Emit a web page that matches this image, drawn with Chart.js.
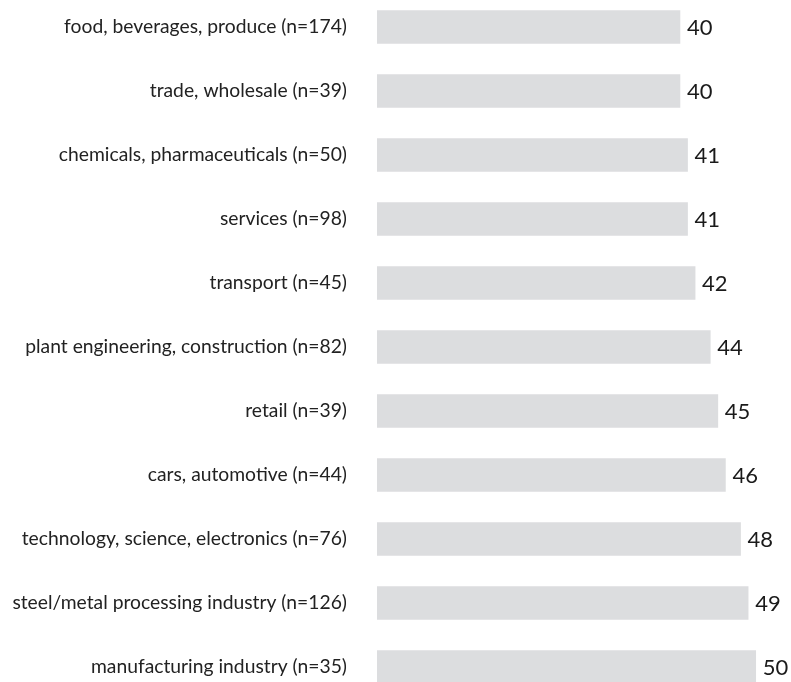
<!DOCTYPE html>
<html>
<head>
<meta charset="utf-8">
<script src="https://cdn.jsdelivr.net/npm/chart.js@4/dist/chart.umd.min.js"></script>
<style>
  html,body{margin:0;padding:0;background:#fff;}
  #frame{position:relative;width:791px;height:682px;overflow:hidden;}
  #box{position:absolute;left:0;top:-5px;width:791px;height:704px;}
</style>
</head>
<body>
<div id="frame"><div id="box"><canvas id="chart"></canvas></div></div>
<script>
'use strict';

// ── DATA ────────────────────────────────────────────────
const categories = [
  'food, beverages, produce (n=174)',
  'trade, wholesale (n=39)',
  'chemicals, pharmaceuticals (n=50)',
  'services (n=98)',
  'transport (n=45)',
  'plant engineering, construction (n=82)',
  'retail (n=39)',
  'cars, automotive (n=44)',
  'technology, science, electronics (n=76)',
  'steel/metal processing industry (n=126)',
  'manufacturing industry (n=35)'
];
const values = [40, 40, 41, 41, 42, 44, 45, 46, 48, 49, 50];

const FONT = "Lato, 'DejaVu Sans', sans-serif";

// ── VALUE LABEL PLUGIN ──────────────────────────────────
const valueLabels = {
  id: 'valueLabels',
  afterDatasetsDraw(chart){
    const ctx = chart.ctx;
    const meta = chart.getDatasetMeta(0);
    ctx.save();
    ctx.font = `22px ${FONT}`;
    ctx.fillStyle = '#1a1a1a';
    ctx.textAlign = 'left';
    ctx.textBaseline = 'middle';
    meta.data.forEach((bar, i) => {
      ctx.fillText(String(values[i]), bar.x + 7, bar.y + 1);
    });
    ctx.restore();
  }
};

new Chart(document.getElementById('chart').getContext('2d'), {
  type: 'bar',
  data: {
    labels: categories,
    datasets: [{
      data: values,
      backgroundColor: '#dcdddf',
      borderWidth: 0,
      barThickness: 33
    }]
  },
  options: {
    indexAxis: 'y',
    responsive: true,
    maintainAspectRatio: false,
    animation: false,
    layout: { padding: { left: 0, right: 5, top: 0, bottom: 0 } },
    plugins: { legend: { display: false }, tooltip: { enabled: false } },
    scales: {
      x: { display: false, min: 0, max: 54 },
      y: {
        afterFit(scale){
          scale.width = 377;
          scale.paddingTop = 0;
          scale.paddingBottom = 0;
        },
        border: { display: false },
        grid: { display: false, drawTicks: false },
        ticks: { color: '#222', padding: 30, font: { family: FONT, size: 19.3 } }
      }
    }
  },
  plugins: [valueLabels]
});
</script>
</body>
</html>
